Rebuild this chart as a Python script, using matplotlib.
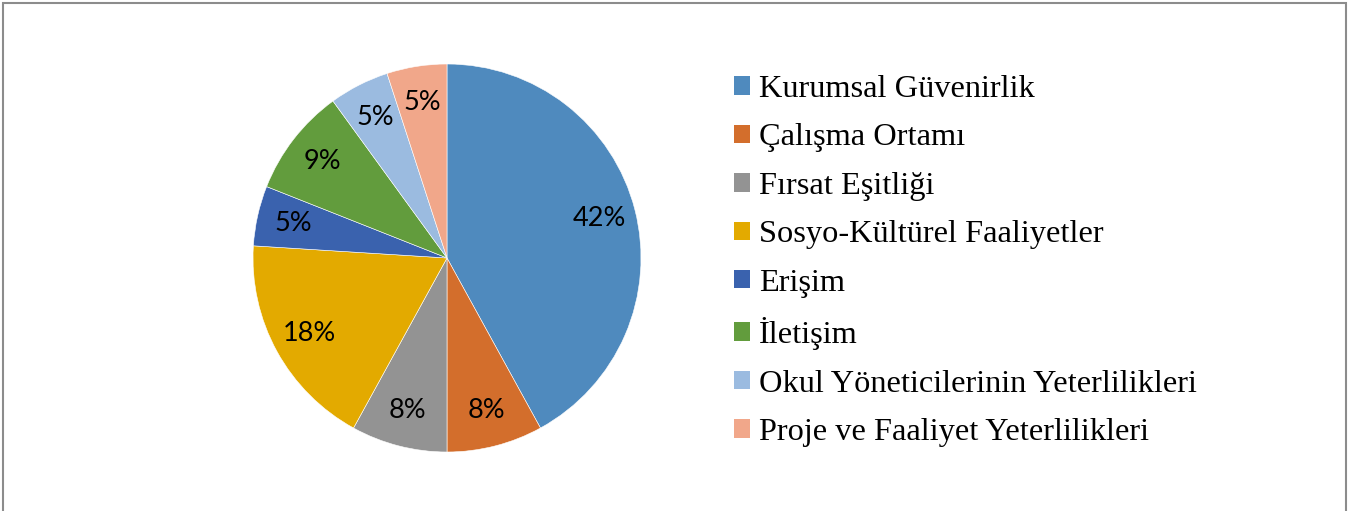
import matplotlib.pyplot as plt
from matplotlib.patches import Rectangle, Patch

categories = ["Kurumsal Güvenirlik", "Çalışma Ortamı", "Fırsat Eşitliği",
              "Sosyo-Kültürel Faaliyetler", "Erişim", "İletişim",
              "Okul Yöneticilerinin Yeterlilikleri", "Proje ve Faaliyet Yeterlilikleri"]
shares = [42, 8, 8, 18, 5, 9, 5, 5]
colors = ["#4F8ABE", "#D36E2C", "#939393", "#E3AA00",
          "#3A62AE", "#629C3D", "#9BBBE0", "#F1A78A"]

W, H = 1352, 511
fig = plt.figure(figsize=(W / 100, H / 100), dpi=100)

# outer grey frame
fig.patches.append(Rectangle((3 / W, -0.01), 1343 / W, (H - 3) / H + 0.01,
                             transform=fig.transFigure, fill=False,
                             edgecolor="#8c8c8c", linewidth=1.5))

cx, cy, r = 447, 258, 194
ax = fig.add_axes([(cx - r) / W, (H - cy - r) / H, 2 * r / W, 2 * r / H])
wedges, texts, autotexts = ax.pie(
    shares, colors=colors, startangle=90, counterclock=False,
    autopct=lambda p: "{:.0f}%".format(p), pctdistance=0.81,
    wedgeprops=dict(edgecolor="white", linewidth=0.4),
    textprops=dict(family="Lato", fontsize=19.5, color="black"))
ax.set_aspect("equal")
ax.set_xlim(-1, 1)
ax.set_ylim(-1, 1)

handles = [Patch(facecolor=c, edgecolor="none") for c in colors]
fig.legend(handles, categories, loc="upper left",
           bbox_to_anchor=(734 / W, 1 - 75 / H), frameon=False,
           prop=dict(family="Liberation Serif", size=23.3),
           handlelength=0.5, handleheight=0.5, handletextpad=0.28,
           labelspacing=0.6, borderaxespad=0, borderpad=0)

fig.savefig("out.png", dpi=100)
